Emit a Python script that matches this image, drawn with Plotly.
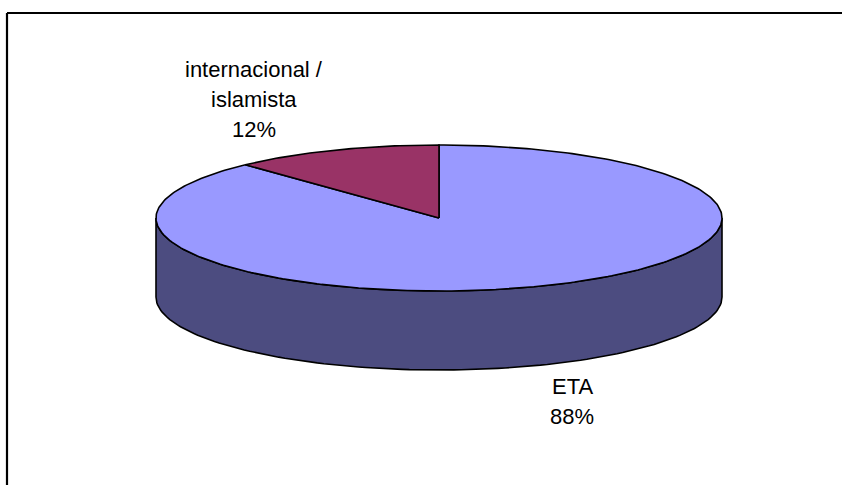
import math
import plotly.graph_objects as go

# ---- data ----
categories = ["ETA", "internacional / islamista"]
values = [88, 12]
top_colors = ["#9999FF", "#993366"]
side_colors = ["#4C4C80", "#4C1933"]

# ---- pie geometry (pixel space) ----
CX, CY = 439, 218
RX, RY = 283, 73
DEPTH = 79


def pt(theta_deg, dy=0.0):
    t = math.radians(theta_deg)
    return CX + RX * math.sin(t), CY - RY * math.cos(t) + dy


fig = go.Figure()

total = sum(values)
angles = []
start = 0.0
for v in values:
    end = start + 360.0 * v / total
    angles.append((start, end))
    start = end

# side faces (front half only: 90..270 deg clockwise from top)
for (a0, a1), col in zip(angles, side_colors):
    s0, s1 = max(a0, 90.0), min(a1, 270.0)
    if s1 <= s0:
        continue
    n = 120
    ths = [s0 + (s1 - s0) * i / n for i in range(n + 1)]
    top = [pt(t) for t in ths]
    bot = [pt(t, DEPTH) for t in reversed(ths)]
    pts = top + bot + [top[0]]
    fig.add_trace(go.Scatter(
        x=[p[0] for p in pts], y=[p[1] for p in pts],
        mode="lines", fill="toself", fillcolor=col,
        line=dict(color="black", width=1.6), hoverinfo="skip"))

# top faces
for (a0, a1), col in zip(angles, top_colors):
    n = max(8, int((a1 - a0) / 1.0))
    ths = [a0 + (a1 - a0) * i / n for i in range(n + 1)]
    pts = [(CX, CY)] + [pt(t) for t in ths] + [(CX, CY)]
    fig.add_trace(go.Scatter(
        x=[p[0] for p in pts], y=[p[1] for p in pts],
        mode="lines", fill="toself", fillcolor=col,
        line=dict(color="black", width=1.6), hoverinfo="skip"))

# labels
label_pos = {"ETA": (572, 386), "internacional / islamista": (254, 69)}
LINE_H = 30
for name, v in zip(categories, values):
    lines = name.replace(" / ", " /\n").split("\n") + [f"{round(100 * v / total)}%"]
    x0, y0 = label_pos[name]
    for i, ln in enumerate(lines):
        fig.add_annotation(x=x0, y=y0 + i * LINE_H, text=ln, showarrow=False,
                           xanchor="center", yanchor="middle",
                           font=dict(family="Liberation Sans, Arial", size=22, color="black"))

# chart border: only top and left edges are inside the window
W, H = 842, 485
fig.add_shape(type="line", xref="paper", yref="paper",
              x0=7 / W, x1=1, y0=1 - 13 / H, y1=1 - 13 / H,
              line=dict(color="black", width=2.2))
fig.add_shape(type="line", xref="paper", yref="paper",
              x0=7 / W, x1=7 / W, y0=1 - 13 / H, y1=0,
              line=dict(color="black", width=2.2))

fig.update_layout(
    width=W, height=H,
    margin=dict(l=0, r=0, t=0, b=0),
    paper_bgcolor="white", plot_bgcolor="white",
    showlegend=False,
    xaxis=dict(range=[0, W], visible=False, fixedrange=True),
    yaxis=dict(range=[H, 0], visible=False, fixedrange=True),
)

fig.write_html(
    "out.html",
    config={"displayModeBar": False},
    post_script="document.body.style.margin='0';document.body.style.overflow='hidden';",
)
